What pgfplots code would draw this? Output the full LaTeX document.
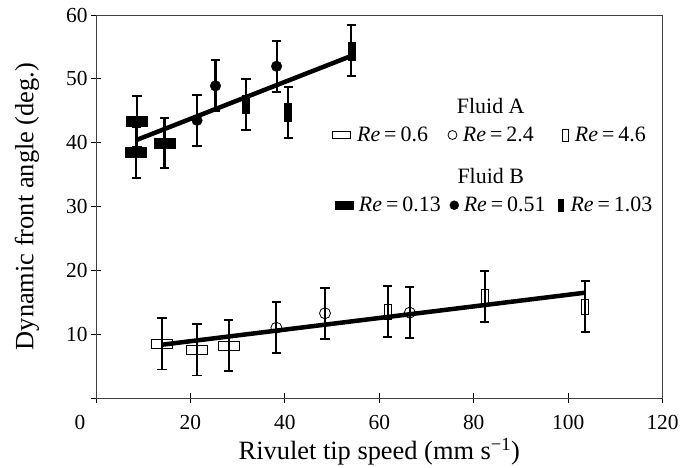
\documentclass[border=0pt]{standalone}
\usepackage{fontspec}
\setmainfont{Liberation Serif}
\usepackage{pgfplots}
\usepackage{pgfplotstable}
\pgfplotsset{compat=1.18}

\pgfdeclareplotmark{wrectO}{\pgfpathrectangle{\pgfpoint{-10.5bp}{-4.5bp}}{\pgfpoint{21bp}{9bp}}\pgfusepathqstroke}
\pgfdeclareplotmark{wrectF}{\pgfpathrectangle{\pgfpoint{-10.5bp}{-5bp}}{\pgfpoint{21bp}{10bp}}\pgfusepathqfillstroke}
\pgfdeclareplotmark{trectO}{\pgfpathrectangle{\pgfpoint{-3.5bp}{-7.5bp}}{\pgfpoint{7bp}{15bp}}\pgfusepathqstroke}
\pgfdeclareplotmark{trectF}{\pgfpathrectangle{\pgfpoint{-3.5bp}{-9bp}}{\pgfpoint{7bp}{18bp}}\pgfusepathqfillstroke}

% Fluid A
\pgfplotstableread{
x y e
13.97 8.50 4.05
21.4 7.57 4.05
28.1 8.20 4.00
}\tAa
\pgfplotstableread{
x y e
38.2 11.00 4.0
48.5 13.27 4.0
66.45 13.37 4.0
}\tAb
\pgfplotstableread{
x y e
61.8 13.5 4.0
82.3 15.9 3.95
103.6 14.3 4.0
}\tAc
% Fluid B
\pgfplotstableread{
x y e
8.7 43.3 4.0
8.5 38.5 4.0
14.5 39.95 3.95
}\tBa
\pgfplotstableread{
x y e
21.4 43.5 4.0
25.3 48.9 4.0
38.25 51.97 4.0
}\tBb
\pgfplotstableread{
x y e
31.75 46.0 4.0
40.7 44.76 4.0
54.1 54.4 4.0
}\tBc

\newcommand{\tickfont}{\fontsize{21.5}{24}\selectfont}
\newcommand{\labfont}{\fontsize{26.5}{30}\selectfont}
\newcommand{\legfont}{\fontsize{22}{25}\selectfont}
\newcommand{\re}[1]{\textit{Re}\hspace{4bp}=\hspace{4bp}#1}

\pgfplotsset{
  base/.style={
    scale only axis, width=566.6bp, height=383bp,
    at={(0,0)}, anchor=south west,
    xmin=0, xmax=120, ymin=0, ymax=60,
  },
  legA/.style={
    legend style={draw=none, fill=none, inner sep=0pt, font=\legfont},
    legend columns=3, legend cell align=left,
  },
  errs/.style={
    error bars/y dir=both, error bars/y explicit,
    error bars/error bar style={black, line width=2.1bp},
    error bars/error mark options={black, line width=1.8bp, mark size=4.6bp, rotate=90},
  },
}

\begin{document}
\begin{tikzpicture}
\path[use as bounding box] (-96bp,-70bp) rectangle (584bp,398bp);
\begin{axis}[base, legA,
  axis line style={black!75, line width=0.9bp},
  tick pos=left, tick align=center, major tick length=10bp,
  tick style={black, line width=0.9bp},
  xtick={0,20,...,120}, ytick={0,10,...,60},
  xticklabels={\llap{0\hspace{10.6bp}},20,40,60,80,100,120},
  yticklabels={,10,20,30,40,50,60},
  ticklabel style={font=\tickfont},
  xticklabel style={yshift=-9bp},
  /pgf/number format/assume math mode=true,
  xlabel={Rivulet tip speed (mm s\textsuperscript{−1})},
  ylabel={Dynamic front angle (deg.)},
  label style={font=\labfont},
  xlabel style={at={(axis description cs:0.5,-0.141)}, anchor=center},
  ylabel style={at={(axis description cs:-0.122,0.5)}, anchor=center},
  legend style={at={(axis cs:50.0,41.2)}, anchor=west,
    /tikz/column 1/.style={column sep=5bp},
    /tikz/column 2/.style={column sep=18bp},
    /tikz/column 3/.style={column sep=4bp},
    /tikz/column 4/.style={column sep=27bp},
    /tikz/column 5/.style={column sep=4.5bp}},
  clip=false,
]
% Fluid A
\addplot[black, only marks, mark=wrectO, mark options={line width=0.8bp}, forget plot, errs] table[x=x, y=y, y error=e] {\tAa};
\addplot[black, only marks, mark=o, mark size=5.5bp, mark options={line width=0.8bp}, forget plot, errs] table[x=x, y=y, y error=e] {\tAb};
\addplot[black, only marks, mark=trectO, mark options={line width=0.8bp}, forget plot, errs] table[x=x, y=y, y error=e] {\tAc};
% Fluid B
\addplot[black, only marks, mark=wrectF, mark options={fill=black}, forget plot, errs] table[x=x, y=y, y error=e] {\tBa};
\addplot[black, only marks, mark=*, mark size=5.3bp, mark options={fill=black}, forget plot, errs] table[x=x, y=y, y error=e] {\tBb};
\addplot[black, only marks, mark=trectF, mark options={fill=black}, forget plot, errs] table[x=x, y=y, y error=e] {\tBc};
% fits
\addplot[black, line width=4.5bp, forget plot] coordinates {(8.5,40.4) (54.1,53.6)};
\addplot[black, line width=4.5bp, forget plot] coordinates {(14.0,8.35) (103.6,16.5)};
% legend A
\addlegendimage{black, only marks, mark=wrectO, mark options={scale=0.85, line width=0.8bp}}
\addlegendentry{\re{0.6}}
\addlegendimage{black, only marks, mark=o, mark size=4.5bp, mark options={line width=0.8bp}}
\addlegendentry{\re{2.4}}
\addlegendimage{black, only marks, mark=trectO, mark options={scale=0.8, line width=0.8bp}}
\addlegendentry{\re{4.6}}
\node[font=\legfont] at (axis cs:83.6,45.75) {Fluid A};
\node[font=\legfont] at (axis cs:83.6,34.8) {Fluid B};
\end{axis}
\begin{axis}[base, legA, hide axis,
  legend style={at={(axis cs:50.6,30.2)}, anchor=west,
    /tikz/column 1/.style={column sep=4bp},
    /tikz/column 2/.style={column sep=7bp},
    /tikz/column 3/.style={column sep=3bp},
    /tikz/column 4/.style={column sep=11bp},
    /tikz/column 5/.style={column sep=5bp}}]
\addlegendimage{black, only marks, mark=wrectF, mark options={scale=0.85, fill=black}}
\addlegendentry{\re{0.13}}
\addlegendimage{black, only marks, mark=*, mark size=4.5bp, mark options={fill=black}}
\addlegendentry{\re{0.51}}
\addlegendimage{black, only marks, mark=trectF, mark options={scale=0.7, fill=black}}
\addlegendentry{\re{1.03}}
\end{axis}
\end{tikzpicture}
\end{document}
